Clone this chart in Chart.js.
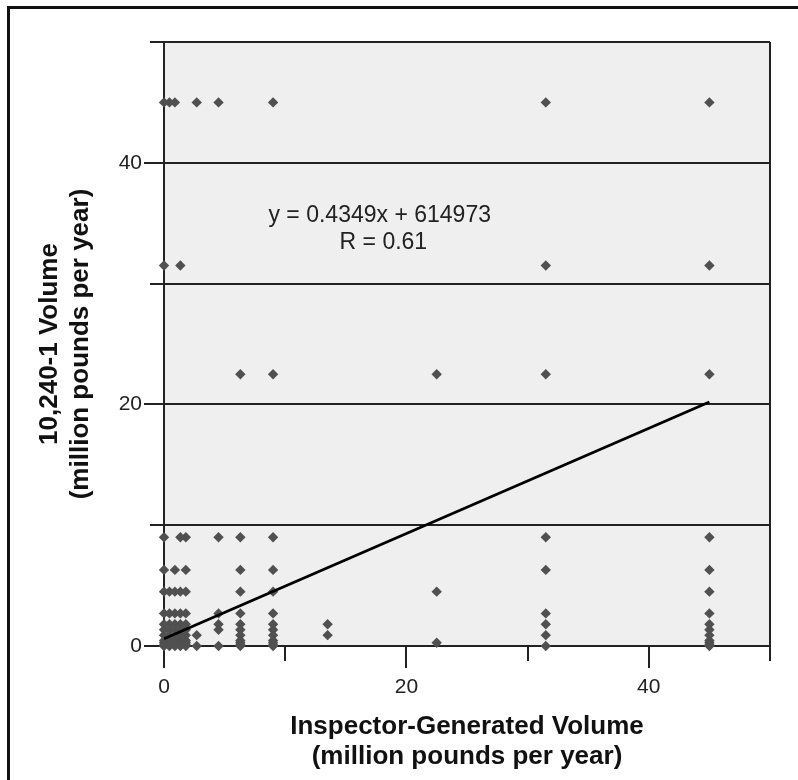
<!DOCTYPE html>
<html>
<head>
<meta charset="utf-8">
<script src="https://cdn.jsdelivr.net/npm/chart.js@4.4.1/dist/chart.umd.min.js"></script>
<style>
  html, body { margin: 0; padding: 0; background: #fff; }
  .page { position: relative; width: 798px; height: 780px; overflow: hidden; }
  .edge { position: absolute; left: 7px; top: 6px; width: 800px; height: 800px;
          border-left: 3px solid #111; border-top: 3px solid #111; }
  canvas { position: absolute; left: 0; top: 0; }
</style>
</head>
<body>
<div class="page">
  <div class="edge"></div>
  <canvas id="myChart" width="798" height="780"></canvas>
</div>
<script>
// x values (inspector volume, million lb/yr) found at each reported-volume level
let level45   = [0, 0.45, 0.9, 2.7, 4.5, 9, 31.5, 45];
let level31_5 = [0, 1.35, 31.5, 45];
let level22_5 = [6.3, 9, 22.5, 31.5, 45];
let level9    = [0, 1.35, 1.8, 4.5, 6.3, 9, 31.5, 45];
let level6_3  = [0, 0.9, 1.8, 6.3, 9, 31.5, 45];
let level4_5  = [0, 0.45, 0.9, 1.35, 1.8, 6.3, 9, 22.5, 45];
let level2_7  = [0, 0.45, 0.9, 1.35, 1.8, 4.5, 6.3, 9, 31.5, 45];
let level1_8  = [0, 0.45, 0.9, 1.35, 1.8, 4.5, 6.3, 9, 13.5, 31.5, 45];
let level1_35 = [0, 0.45, 0.9, 1.35, 1.8, 4.5, 6.3, 9, 45];
let level0_9  = [0, 0.45, 0.9, 1.35, 1.8, 2.7, 6.3, 9, 13.5, 31.5, 45];
let level0_45 = [0, 0.45, 0.9, 1.35, 1.8, 6.3, 9, 45];
let level0_27 = [0, 0.45, 0.9, 1.35, 1.8, 6.3, 9, 22.5, 45];
let level0_09 = [0, 0.45, 0.9, 1.35, 1.8, 6.3, 9, 45];
let level0    = [0, 0.45, 0.9, 1.35, 1.8, 2.7, 4.5, 6.3, 9, 31.5, 45];

let yLevels = [45, 31.5, 22.5, 9, 6.3, 4.5, 2.7, 1.8, 1.35, 0.9, 0.45, 0.27, 0.09, 0];
let xRows = [level45, level31_5, level22_5, level9, level6_3, level4_5, level2_7,
             level1_8, level1_35, level0_9, level0_45, level0_27, level0_09, level0];

let trendX = [0, 45];
let trendY = [0.6, 20.2];

let tickLabels = [0, 20, 40];
let noteLines = ['y = 0.4349x + 614973', 'R = 0.61'];

let points = [];
yLevels.forEach((yv, i) => {
  xRows[i].forEach(xv => points.push({ x: xv, y: yv }));
});
let trend = trendX.map((xv, i) => ({ x: xv, y: trendY[i] }));

const fontFam = '"Liberation Sans", Arial, sans-serif';
const ink = '#222';

// labelled ticks are long, the others short
// (x ticks are stroked from the axis out, y ticks from the outer end in)
const isMajor = c => c.tick && tickLabels.includes(c.tick.value);
const xTickDash = c => isMajor(c) ? [] : [14, 60];
const yTickDash = c => isMajor(c) ? [] : [0, 6, 14, 60];

// grey plot background
const plotBg = {
  id: 'plotBg',
  beforeDraw(chart) {
    const a = chart.chartArea;
    const c = chart.ctx;
    c.save();
    c.fillStyle = '#efefef';
    c.fillRect(a.left, a.top, a.right - a.left, a.bottom - a.top);
    c.restore();
  }
};

// equation text inside the plot
const eqNote = {
  id: 'eqNote',
  afterDatasetsDraw(chart) {
    const c = chart.ctx;
    const sx = chart.scales.x, sy = chart.scales.y;
    c.save();
    c.fillStyle = '#222';
    c.font = '23px ' + fontFam;
    c.textAlign = 'center';
    c.textBaseline = 'middle';
    c.fillText(noteLines[0], sx.getPixelForValue(17.8), sy.getPixelForValue(35.65));
    c.fillText(noteLines[1], sx.getPixelForValue(18.1), sy.getPixelForValue(33.4));
    c.restore();
  }
};

let ctx = document.getElementById('myChart').getContext('2d');

let myChart = new Chart(ctx, {
  type: 'scatter',
  data: {
    datasets: [{
      type: 'line',
      data: trend,
      borderColor: '#000',
      borderWidth: 2.8,
      pointRadius: 0,
      fill: false,
      order: 0
    }, {
      data: points,
      pointStyle: 'rectRot',
      pointRadius: 5.2,
      backgroundColor: '#505050',
      borderWidth: 0,
      clip: false,
      order: 1
    }]
  },
  options: {
    responsive: false,
    animation: false,
    layout: { padding: { left: 0, top: 42, right: 28, bottom: 0 } },
    plugins: { legend: { display: false }, tooltip: { enabled: false } },
    scales: {
      x: {
        type: 'linear',
        min: 0,
        max: 50,
        afterFit: s => { s.height = 134; },
        ticks: {
          stepSize: 10,
          autoSkip: false,
          maxRotation: 0,
          padding: 7,
          color: '#222',
          font: { family: fontFam, size: 21 },
          callback: v => tickLabels.includes(v) ? String(v) : ''
        },
        grid: {
          drawOnChartArea: true,
          color: c => (c.tick && c.tick.value === 50) ? ink : 'rgba(0,0,0,0)',
          tickColor: ink,
          tickBorderDash: xTickDash,
          lineWidth: 2,
          tickLength: 22
        },
        border: { display: true, color: ink, width: 2 },
        title: {
          display: true,
          text: ['Inspector-Generated Volume', '(million pounds per year)'],
          color: '#111',
          font: { family: fontFam, size: 26, weight: 'bold', lineHeight: 1.17 },
          padding: { top: 0, bottom: 8 }
        }
      },
      y: {
        type: 'linear',
        min: 0,
        max: 50,
        afterFit: s => { s.width = 164; },
        ticks: {
          stepSize: 10,
          autoSkip: false,
          padding: 2,
          color: '#222',
          font: { family: fontFam, size: 21 },
          callback: v => tickLabels.includes(v) ? String(v) : ''
        },
        grid: {
          color: ink,
          tickColor: ink,
          tickBorderDash: yTickDash,
          lineWidth: 2,
          tickLength: 20
        },
        border: { display: true, color: ink, width: 2 },
        title: {
          display: true,
          text: ['10,240-1 Volume', '(million pounds per year)'],
          color: '#111',
          font: { family: fontFam, size: 26, weight: 'bold', lineHeight: 1.17 },
          padding: { top: 35, bottom: 0 }
        }
      }
    }
  },
  plugins: [plotBg, eqNote]
});
</script>
</body>
</html>
